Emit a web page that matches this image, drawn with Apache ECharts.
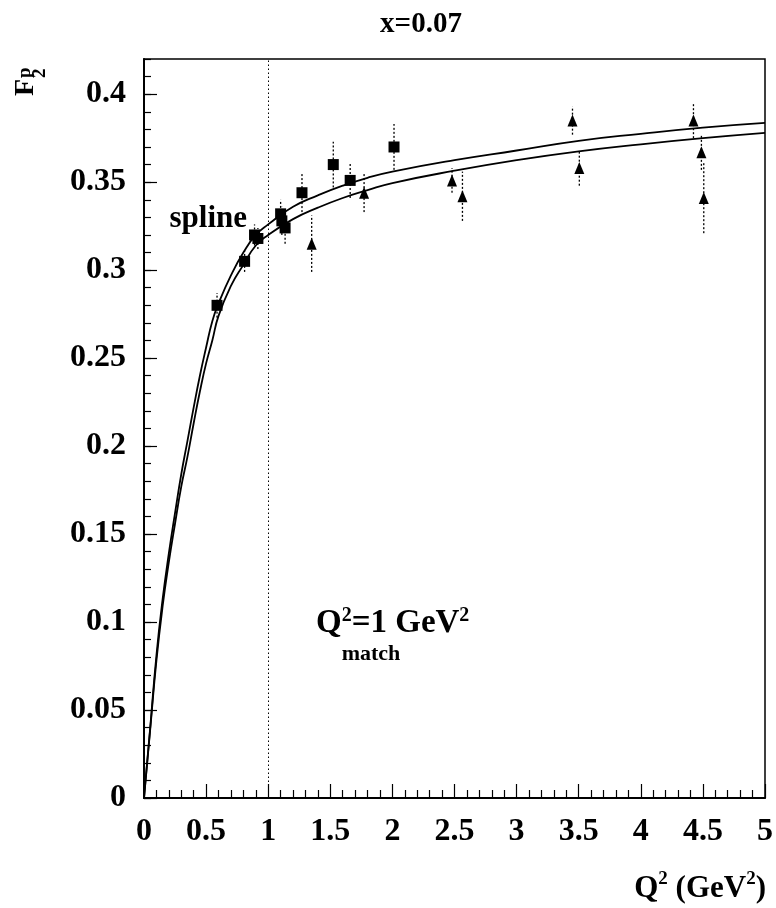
<!DOCTYPE html>
<html><head><meta charset="utf-8">
<script src="https://cdn.jsdelivr.net/npm/echarts@6/dist/echarts.min.js"></script>
<style>html,body{margin:0;padding:0;background:#fff}#c{width:776px;height:908px}</style>
</head><body><div id="c"></div>
<script>
// ---- data ----
const curveX     = [0, 0.05, 0.1, 0.15, 0.2, 0.25, 0.3, 0.35, 0.4, 0.45, 0.5, 0.55, 0.6, 0.7, 0.8, 0.9, 1.0, 1.2, 1.4, 1.6, 1.8, 2.0, 2.5, 3.0, 3.5, 4.0, 4.5, 5.0];
const upperCurve = [0, 0.040, 0.081, 0.113, 0.139, 0.162, 0.184, 0.203, 0.222, 0.240, 0.256, 0.271, 0.281, 0.297, 0.310, 0.320, 0.326, 0.336, 0.3425, 0.348, 0.3525, 0.356, 0.3625, 0.368, 0.3735, 0.3775, 0.381, 0.3837];
const lowerCurve = [0, 0.039, 0.078, 0.109, 0.134, 0.156, 0.177, 0.194, 0.213, 0.231, 0.247, 0.260, 0.274, 0.291, 0.303, 0.314, 0.320, 0.329, 0.3355, 0.341, 0.3455, 0.3495, 0.3565, 0.3625, 0.3675, 0.3715, 0.375, 0.378];

const squareX   = [0.588, 0.81, 0.89, 0.917, 1.10, 1.11, 1.136, 1.272, 1.524, 1.66, 2.013];
const squareY   = [0.280, 0.305, 0.320, 0.318, 0.332, 0.328, 0.324, 0.344, 0.360, 0.351, 0.370];
const squareErr = [0.007, 0.006, 0.006, 0.006, 0.008, 0.008, 0.009, 0.011, 0.013, 0.010, 0.013];

const triX   = [1.35, 1.772, 2.48, 2.564, 3.45, 3.505, 4.424, 4.488, 4.507];
const triY   = [0.315, 0.344, 0.351, 0.342, 0.385, 0.358, 0.385, 0.367, 0.341];
const triErr = [0.016, 0.011, 0.007, 0.014, 0.008, 0.010, 0.010, 0.010, 0.020];

const xTickLabels = ['0', '0.5', '1', '1.5', '2', '2.5', '3', '3.5', '4', '4.5', '5'];
const yTickLabels = ['0', '0.05', '0.1', '0.15', '0.2', '0.25', '0.3', '0.35', '0.4'];
const matchQ2 = 1;

const titleText = 'x=0.07';
const splineText = 'spline';

// ---- build ----
const FONT = "'Liberation Serif', 'Times New Roman', serif";
const upperData = curveX.map((x, i) => [x, upperCurve[i]]);
const lowerData = curveX.map((x, i) => [x, lowerCurve[i]]);
const sqData = squareX.map((x, i) => [x, squareY[i]]);
const trData = triX.map((x, i) => [x, triY[i]]);
const errData = squareX.map((x, i) => [x, squareY[i], squareErr[i]])
  .concat(triX.map((x, i) => [x, triY[i], triErr[i]]));

function errRender(params, api) {
  const x = api.value(0), y = api.value(1), e = api.value(2);
  const p1 = api.coord([x, y - e]);
  const p2 = api.coord([x, y + e]);
  return {
    type: 'line',
    shape: { x1: p1[0], y1: p1[1], x2: p2[0], y2: p2[1] },
    style: { stroke: '#000', lineWidth: 1.3, lineDash: [2, 2] }
  };
}

const chart = echarts.init(document.getElementById('c'), null, { renderer: 'canvas' });
const labelStyle = { color: '#000', fontFamily: FONT, fontWeight: 'bold', fontSize: 32 };

chart.setOption({
  animation: false,
  backgroundColor: '#fff',
  grid: { left: 144, right: 9, top: 59, bottom: 110, show: true, borderColor: '#000', borderWidth: 1.5, backgroundColor: 'transparent' },
  xAxis: {
    type: 'value', min: 0, max: 5, interval: 0.5,
    axisLine: { show: true, onZero: false, lineStyle: { color: '#000', width: 2 } },
    axisTick: { show: true, inside: true, length: 14, lineStyle: { color: '#000', width: 1.2 } },
    minorTick: { show: true, splitNumber: 5, length: 8, lineStyle: { color: '#000', width: 1.2 } },
    splitLine: { show: false },
    axisLabel: Object.assign({ margin: 18, formatter: v => { const i = Math.round(v / 0.5); return Math.abs(v - i * 0.5) < 1e-6 ? xTickLabels[i] : ''; } }, labelStyle)
  },
  yAxis: [{
    type: 'value', min: 0, max: 0.42, interval: 0.05,
    axisLine: { show: true, onZero: false, lineStyle: { color: '#000', width: 2 } },
    axisTick: { show: true, inside: true, length: 13, lineStyle: { color: '#000', width: 1.2 } },
    splitLine: { show: false },
    axisLabel: Object.assign({ margin: 18, showMaxLabel: false, formatter: v => { const i = Math.round(v / 0.05); return Math.abs(v - i * 0.05) < 1e-6 && i < yTickLabels.length ? yTickLabels[i] : ''; } }, labelStyle)
  }, {
    type: 'value', min: 0, max: 0.42, interval: 0.01, position: 'left',
    axisLine: { show: false },
    axisTick: { show: true, inside: true, length: 7, lineStyle: { color: '#000', width: 1.2 } },
    splitLine: { show: false },
    axisLabel: { show: false }
  }],
  series: [
    {
      type: 'line', data: upperData, smooth: true, showSymbol: false, symbol: 'none',
      lineStyle: { color: '#000', width: 1.8 }, z: 3,
      markLine: {
        silent: true, symbol: 'none', label: { show: false },
        lineStyle: { color: '#000', type: [1.5, 2.5], width: 1 },
        data: [{ xAxis: matchQ2 }]
      }
    },
    { type: 'line', data: lowerData, smooth: true, showSymbol: false, symbol: 'none', lineStyle: { color: '#000', width: 1.8 }, z: 3 },
    { type: 'custom', data: errData, renderItem: errRender, encode: { x: 0, y: 1 }, z: 4 },
    { type: 'scatter', data: sqData, symbol: 'rect', symbolSize: 11, itemStyle: { color: '#000', opacity: 1 }, z: 5 },
    { type: 'scatter', data: trData, symbol: 'triangle', symbolSize: [10, 12], itemStyle: { color: '#000', opacity: 1 }, z: 5 },
    { type: 'line', yAxisIndex: 1, data: [], symbol: 'none' }
  ],
  graphic: [
    { type: 'text', x: 421, y: 25, style: { text: titleText, font: `bold 29px ${FONT}`, fill: '#000', align: 'center', verticalAlign: 'middle' } },
    { type: 'text', x: 247, y: 219, style: { text: splineText, font: `bold 31px ${FONT}`, fill: '#000', align: 'right', verticalAlign: 'middle' } },
    { type: 'text', x: 316, y: 622, style: {
        text: '{b|Q}{s|2}{b|=1 GeV}{s|2}', fill: '#000', align: 'left', verticalAlign: 'middle',
        rich: { b: { font: `bold 33px ${FONT}`, fill: '#000', lineHeight: 36, verticalAlign: 'bottom' },
                s: { font: `bold 20px ${FONT}`, fill: '#000', lineHeight: 36, verticalAlign: 'top', padding: [2, 0, 0, 0] } } } },
    { type: 'text', x: 371, y: 654, style: { text: 'match', font: `bold 22px ${FONT}`, fill: '#000', align: 'center', verticalAlign: 'middle' } },
    { type: 'text', x: 766, y: 886, style: {
        text: '{b|Q}{s|2}{b| (GeV}{s|2}{b|)}', fill: '#000', align: 'right', verticalAlign: 'middle',
        rich: { b: { font: `bold 31px ${FONT}`, fill: '#000', lineHeight: 36, verticalAlign: 'bottom' },
                s: { font: `bold 19px ${FONT}`, fill: '#000', lineHeight: 36, verticalAlign: 'top', padding: [2, 0, 0, 0] } } } },
    { type: 'text', x: 26, y: 96, rotation: Math.PI / 2, style: { text: 'F', font: `bold 28px ${FONT}`, fill: '#000', align: 'left', verticalAlign: 'middle' } },
    { type: 'text', x: 25, y: 78, rotation: Math.PI / 2, style: { text: 'p', font: `bold 19px ${FONT}`, fill: '#000', align: 'left', verticalAlign: 'middle' } },
    { type: 'text', x: 40, y: 78, rotation: Math.PI / 2, style: { text: '2', font: `bold 19px ${FONT}`, fill: '#000', align: 'left', verticalAlign: 'middle' } }
  ]
});
</script>
</body></html>
